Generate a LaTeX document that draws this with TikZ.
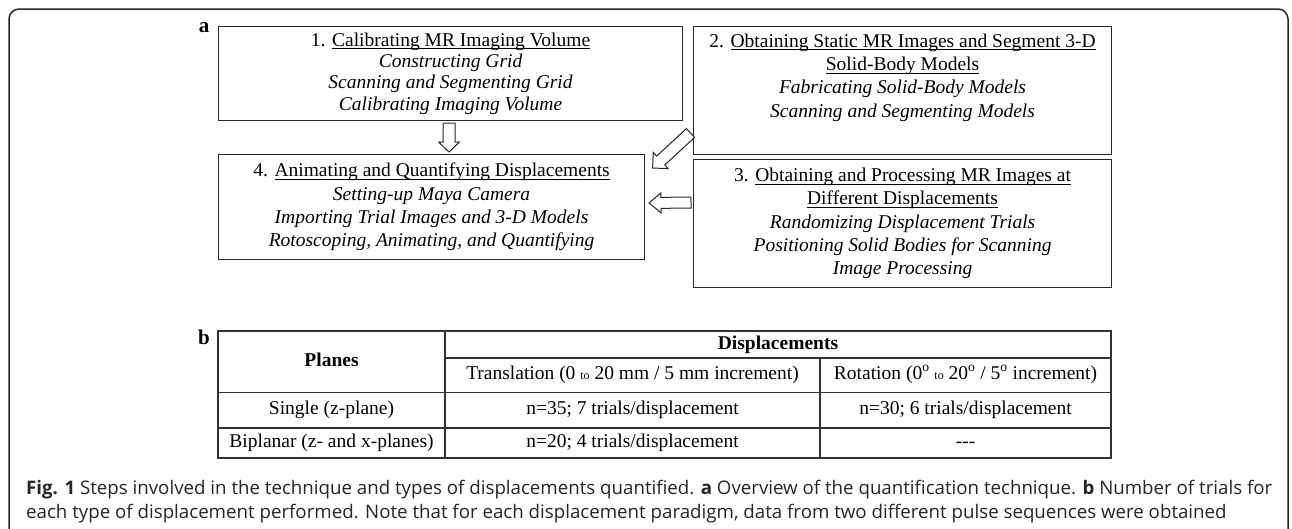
\documentclass[tikz,border=0pt]{standalone}
\usepackage{fontspec}
\setmainfont{Liberation Serif}
\newfontfamily\capfont{Open Sans}
\usetikzlibrary{calc}
\newcommand{\ulx}[1]{\setbox0\hbox{#1}\rlap{\rule[-3pt]{\wd0}{0.9pt}}\box0}
\newcommand{\blockarrow}[5]{%
  \coordinate (H) at ($(#2)!#5!(#1)$);
  \draw[blk] ($(#1)!#3!90:(#2)$) -- ($(H)!#3!90:(#2)$) -- ($(H)!#4!90:(#2)$) -- (#2)
    -- ($(H)!#4!-90:(#2)$) -- ($(H)!#3!-90:(#2)$) -- ($(#1)!#3!-90:(#2)$) -- cycle;}
\begin{document}
\begin{tikzpicture}[x=1pt,y=-1pt,
  box/.style={draw=black!85, line width=1.1pt, inner sep=0pt, align=center,
    font=\fontsize{19.5}{23.3}\selectfont},
  blk/.style={draw=black!85, line width=1pt, fill=white, line join=miter},
  tline/.style={draw=black!80, line width=1.1pt},
  cell/.style={font=\fontsize{19.5}{23}\selectfont, inner sep=0pt, text height=13.5pt, text depth=4.5pt},
  lab/.style={font=\fontsize{21}{21}\selectfont\bfseries, inner sep=0pt, text height=9pt, text depth=0pt},
  captext/.style={font=\capfont\fontsize{18.7}{22}\selectfont, text=black!85, anchor=base west, inner sep=0pt}]
\useasboundingbox (0,0) rectangle (1292,528);
\fill[white] (0,0) rectangle (1292,528);
\draw[line width=1.5pt, black!85, rounded corners=10pt] (9,545) -- (9,9) -- (1288,9) -- (1288,545);

% labels
\node[lab] (la) at (204,28) {a};
\node[lab] (lb) at (204,340) {b};

% boxes
\node[box, anchor=north west, minimum width=464pt, minimum height=94pt,
  font=\fontsize{19.5}{21.3}\selectfont] (b1) at (218,26)
  {1. \ulx{Calibrating MR Imaging Volume}\\ \textit{Constructing Grid}\\
   \textit{Scanning and Segmenting Grid}\\ \textit{Calibrating Imaging Volume}};
\node[box, anchor=north west, minimum width=418pt, minimum height=128pt] (b2) at (693,26)
  {2. \ulx{Obtaining Static MR Images and Segment 3-D}\\ \ulx{Solid-Body Models}\\
   \textit{Fabricating Solid-Body Models}\\ \textit{Scanning and Segmenting Models}\\ \strut};
\node[box, anchor=north west, minimum width=418pt, minimum height=128pt] (b3) at (693,159)
  {3. \ulx{Obtaining and Processing MR Images at}\\ \ulx{Different Displacements}\\
   \textit{Randomizing Displacement Trials}\\ \textit{Positioning Solid Bodies for Scanning}\\
   \textit{Image Processing}};
\node[box, anchor=north west, minimum width=426pt, minimum height=105pt] (b4) at (218,154)
  {4. \ulx{Animating and Quantifying Displacements}\\ \textit{Setting-up Maya Camera}\\
   \textit{Importing Trial Images and 3-D Models}\\ \textit{Rotoscoping, Animating, and Quantifying}};

% block arrows
\coordinate (a1s) at (449,123); \coordinate (a1e) at (449,152);
\blockarrow{a1s}{a1e}{6pt}{10.5pt}{10pt}
\coordinate (a2s) at (690.5,133); \coordinate (a2e) at (652.6,168);
\blockarrow{a2s}{a2e}{6pt}{11pt}{11pt}
\coordinate (a3s) at (691,202.5); \coordinate (a3e) at (649,203);
\blockarrow{a3s}{a3e}{5.5pt}{10pt}{12pt}

% table
\draw[tline] (218,331) rectangle (1111,458);
\draw[tline] (445,331) -- (445,458);
\draw[tline] (445,358) -- (1111,358);
\draw[tline] (820,358) -- (820,458);
\draw[tline] (218,392.5) -- (1111,392.5);
\draw[tline] (218,428) -- (1111,428);

\node[cell] (tpl) at (331.5,362) {\textbf{Planes}};
\node[cell] (tds) at (778,345) {\textbf{Displacements}};
\node[cell] (ttr) at (632.5,375) {Translation (0 {\fontsize{12}{12}\selectfont to} 20 mm / 5 mm increment)};
\node[cell] (tro) at (965.5,375) {Rotation (0\textsuperscript{o} {\fontsize{12}{12}\selectfont to} 20\textsuperscript{o} / 5\textsuperscript{o} increment)};
\node[cell] (ts1) at (331.5,410) {Single (z-plane)};
\node[cell] (ts2) at (632.5,410) {n=35; 7 trials/displacement};
\node[cell] (ts3) at (965.5,410) {n=30; 6 trials/displacement};
\node[cell] (tb1) at (331.5,443) {Biplanar (z- and x-planes)};
\node[cell] (tb2) at (632.5,443) {n=20; 4 trials/displacement};
\node[cell] (tb3) at (965.5,443) {-{}-{}-};

% caption
\node[captext] (c1) at (26,494) {\textbf{Fig. 1} Steps involved in the technique and types of displacements quantified. \textbf{a} Overview of the quantification technique. \textbf{b} Number of trials for};
\node[captext] (c2) at (26,518) {each type of displacement performed. Note that for each displacement paradigm, data from two different pulse sequences were obtained};
\end{tikzpicture}
\end{document}
